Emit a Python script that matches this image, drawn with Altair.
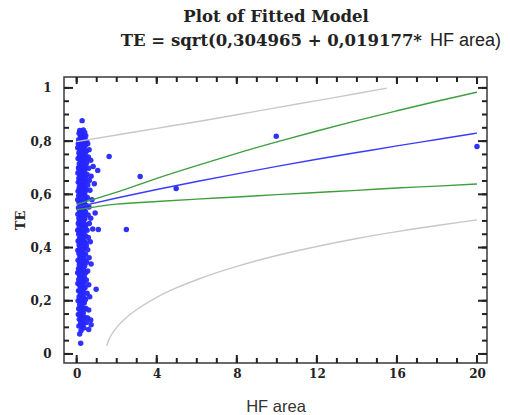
import altair as alt
import pandas as pd

SERIF = "DejaVu Serif"
SANS = "Liberation Sans Narrow, Liberation Sans, Arial, sans-serif"

X_DOMAIN = [-0.635, 20.5]
Y_DOMAIN = [-0.034, 1.041]
W, H = 423, 286

title_line1 = "Plot of Fitted Model"
title_line2a = "TE = sqrt(0,304965 + 0,019177*"
title_line2b = "HF area)"
x_title = "HF area"
y_title = "TE"

x_major = [0, 4, 8, 12, 16, 20]
x_minor = list(range(0, 21))
y_major = [0, 0.2, 0.4, 0.6, 0.8, 1.0]
y_minor = [round(i * 0.05, 2) for i in range(21)]

# fitted model and limits
fit_x = [0, 2, 4, 6, 8, 10, 12, 14, 16, 18, 20]
fit_y = [0.552, 0.586, 0.618, 0.648, 0.677, 0.705, 0.732, 0.757, 0.782, 0.806, 0.830]
cl_upper = [0.562, 0.608, 0.660, 0.708, 0.754, 0.797, 0.838, 0.877, 0.914, 0.950, 0.984]
cl_lower = [0.542, 0.563, 0.573, 0.582, 0.590, 0.599, 0.607, 0.615, 0.624, 0.631, 0.639]
pl_upper_x = [0, 2, 4, 6, 8, 10, 12, 14, 15.5]
pl_upper_y = [0.798, 0.823, 0.848, 0.873, 0.899, 0.926, 0.952, 0.979, 0.999]
pl_lower_x = [1.5, 1.6, 1.75, 2, 2.5, 3, 4, 5, 6, 8, 10, 12, 14, 16, 18, 20]
pl_lower_y = [0.030, 0.052, 0.074, 0.100, 0.138, 0.167, 0.213, 0.249, 0.279, 0.329,
              0.370, 0.404, 0.434, 0.460, 0.483, 0.504]

# observations (HF area, TE)
cluster = [
    (0.12, 0.830), (0.22, 0.835), (0.31, 0.828), (0.40, 0.832), (0.18, 0.820), (0.27, 0.815),
    (0.36, 0.810), (0.45, 0.820), (0.10, 0.805), (0.50, 0.800), (0.15, 0.840), (0.33, 0.842),
    (0.24, 0.800), (0.42, 0.805), (0.08, 0.790), (0.29, 0.795), (0.55, 0.790), (0.20, 0.785),
    (0.38, 0.780), (0.27, 0.877),
    (0.05, 0.775), (0.14, 0.770), (0.25, 0.765), (0.35, 0.770), (0.48, 0.762), (0.62, 0.768),
    (0.11, 0.755), (0.20, 0.750), (0.31, 0.745), (0.42, 0.752), (0.58, 0.740), (0.07, 0.735),
    (0.17, 0.730), (0.28, 0.725), (0.39, 0.732), (0.70, 0.728), (0.50, 0.720), (0.13, 0.715),
    (0.23, 0.710), (0.34, 0.705), (0.45, 0.712), (0.82, 0.705), (0.09, 0.700), (0.60, 0.698),
    (1.05, 0.690),
    (0.19, 0.695), (0.29, 0.690), (0.40, 0.688), (0.06, 0.680), (0.15, 0.675), (0.26, 0.672),
    (0.37, 0.670), (0.52, 0.675), (0.72, 0.668), (0.11, 0.660), (0.21, 0.655), (0.32, 0.658),
    (0.44, 0.650), (0.63, 0.652), (0.08, 0.645), (0.18, 0.640), (0.28, 0.638), (0.39, 0.642),
    (0.55, 0.635), (0.88, 0.640), (0.13, 0.628), (0.24, 0.622), (0.35, 0.625), (0.47, 0.618),
    (0.07, 0.612), (0.17, 0.608), (0.30, 0.605), (0.42, 0.610), (0.66, 0.615), (0.22, 0.600),
    (0.10, 0.595), (0.37, 0.590), (0.53, 0.588), (0.05, 0.580), (0.15, 0.575), (0.27, 0.572),
    (0.41, 0.578), (0.76, 0.580), (0.20, 0.565), (0.32, 0.560), (0.48, 0.558), (0.09, 0.550),
    (0.25, 0.545), (0.38, 0.548), (0.61, 0.552), (0.14, 0.538), (0.30, 0.532), (0.44, 0.535),
    (0.06, 0.525), (0.19, 0.520), (0.35, 0.518), (0.57, 0.522), (0.92, 0.530), (0.11, 0.510),
    (0.26, 0.505), (0.41, 0.508), (0.70, 0.510), (0.16, 0.500), (0.33, 0.497), (0.08, 0.490),
    (0.22, 0.488), (0.46, 0.485), (0.63, 0.490), (0.13, 0.478), (0.29, 0.475), (0.39, 0.480),
    (1.08, 0.468), (0.05, 0.465), (0.18, 0.462), (0.34, 0.460), (0.52, 0.465), (0.80, 0.470),
    (0.10, 0.450), (0.24, 0.448), (0.43, 0.445), (0.15, 0.435), (0.31, 0.432), (0.58, 0.438),
    (0.07, 0.425), (0.21, 0.420), (0.37, 0.418), (0.68, 0.422), (0.12, 0.410), (0.27, 0.405),
    (0.48, 0.408), (0.17, 0.398), (0.34, 0.395), (0.06, 0.390), (0.40, 0.402), (0.55, 0.392),
    (0.23, 0.385), (0.11, 0.378), (0.29, 0.372), (0.44, 0.375), (0.16, 0.365), (0.36, 0.360),
    (0.62, 0.362), (0.07, 0.352), (0.21, 0.348), (0.30, 0.342), (0.50, 0.345), (0.13, 0.335),
    (0.26, 0.330), (0.40, 0.332), (0.72, 0.338), (0.09, 0.320), (0.19, 0.315), (0.33, 0.318),
    (0.55, 0.312), (0.05, 0.305), (0.24, 0.300), (0.45, 0.305), (0.14, 0.295), (0.38, 0.290),
    (0.28, 0.285),
    (0.10, 0.280), (0.20, 0.275), (0.48, 0.278), (0.97, 0.243), (0.06, 0.265), (0.31, 0.262),
    (0.16, 0.255), (0.42, 0.250), (0.25, 0.245), (0.60, 0.260), (0.09, 0.238), (0.35, 0.232),
    (0.19, 0.225), (0.52, 0.228), (0.12, 0.215), (0.29, 0.210), (0.44, 0.205), (0.07, 0.200),
    (0.22, 0.198), (0.65, 0.215), (0.38, 0.192), (0.15, 0.185),
    (0.27, 0.178), (0.10, 0.170), (0.45, 0.172), (0.18, 0.160), (0.33, 0.155), (0.60, 0.165),
    (0.08, 0.148), (0.24, 0.142), (0.40, 0.138), (0.13, 0.130), (0.55, 0.135), (0.30, 0.125),
    (0.70, 0.128), (0.20, 0.115), (0.48, 0.118), (0.72, 0.110), (0.11, 0.105), (0.36, 0.098),
    (0.22, 0.088), (0.60, 0.092), (0.15, 0.075), (0.20, 0.040),
]
cluster_core = [
    (0.20, 0.812), (0.30, 0.805), (0.14, 0.795), (0.34, 0.792), (0.25, 0.778), (0.44, 0.785),
    (0.18, 0.760), (0.38, 0.758), (0.27, 0.740), (0.14, 0.742), (0.46, 0.735), (0.22, 0.722),
    (0.32, 0.715), (0.16, 0.700), (0.40, 0.700), (0.26, 0.685), (0.34, 0.680), (0.12, 0.690),
    (0.22, 0.665), (0.46, 0.662), (0.14, 0.650), (0.34, 0.645), (0.24, 0.632), (0.40, 0.628),
    (0.12, 0.618), (0.28, 0.615), (0.36, 0.600), (0.18, 0.592), (0.28, 0.585), (0.44, 0.592),
    (0.12, 0.568), (0.38, 0.568), (0.22, 0.552), (0.32, 0.545), (0.18, 0.530), (0.40, 0.522),
    (0.26, 0.518), (0.12, 0.497), (0.36, 0.492), (0.24, 0.470), (0.44, 0.470), (0.12, 0.462),
    (0.30, 0.452), (0.20, 0.440), (0.36, 0.438), (0.26, 0.422), (0.14, 0.420), (0.44, 0.420),
    (0.22, 0.402), (0.30, 0.390), (0.14, 0.388), (0.36, 0.375), (0.20, 0.362), (0.28, 0.355),
    (0.40, 0.350), (0.16, 0.345), (0.22, 0.330), (0.34, 0.328), (0.12, 0.308), (0.30, 0.302),
    (0.20, 0.290), (0.26, 0.268), (0.38, 0.270), (0.14, 0.268), (0.22, 0.255), (0.32, 0.245),
    (0.16, 0.235), (0.26, 0.225), (0.36, 0.212), (0.18, 0.205), (0.30, 0.192), (0.22, 0.172),
    (0.36, 0.168), (0.16, 0.145), (0.28, 0.140), (0.20, 0.128), (0.26, 0.105), (0.32, 0.112),
]
outliers = [(1.62, 0.742), (3.17, 0.667), (4.97, 0.622), (9.97, 0.818), (2.48, 0.468), (20.0, 0.780)]

pts_df = pd.DataFrame(cluster + cluster_core + outliers, columns=["x", "y"])

rows = []
for name, xs, ys in [
    ("pl_upper", pl_upper_x, pl_upper_y),
    ("pl_lower", pl_lower_x, pl_lower_y),
    ("cl_upper", fit_x, cl_upper),
    ("cl_lower", fit_x, cl_lower),
    ("fit", fit_x, fit_y),
]:
    for xv, yv in zip(xs, ys):
        rows.append({"curve": name, "x": xv, "y": yv})
lines_df = pd.DataFrame(rows)


def xenc(axis=None):
    return alt.X("x:Q", scale=alt.Scale(domain=X_DOMAIN, nice=False, zero=False), axis=axis)


def yenc(axis=None):
    return alt.Y("y:Q", scale=alt.Scale(domain=Y_DOMAIN, nice=False, zero=False), axis=axis)


TICK_COLOR = "#222222"
label_expr = "replace(format(datum.value, '.1~f'), '.', ',')"

x_major_axis = alt.Axis(
    orient="bottom", values=x_major, title=x_title, labelFont=SERIF, labelFontWeight="bold",
    labelFontSize=12, labelColor="#222222", ticks=False, domain=False, grid=False,
    labelPadding=5, labelOverlap=False,
    titleFont=SANS, titleFontSize=16.5, titleFontWeight="normal", titlePadding=19,
    titleColor="#333333",
)
y_major_axis = alt.Axis(
    orient="left", values=y_major, title=y_title, labelExpr=label_expr, labelFont=SERIF,
    labelFontWeight="bold", labelFontSize=12, labelColor="#222222", ticks=False,
    domain=False, grid=False, labelPadding=13, labelOverlap=False,
    titleFont=SERIF, titleFontSize=13, titleFontWeight="bold",
    titlePadding=3, titleColor="#222222",
)


def xticks(values, y0, y1):
    return alt.Chart(pd.DataFrame({"x": values})).mark_rule(
        color=TICK_COLOR, strokeWidth=2
    ).encode(x=xenc(), y=alt.value(y0), y2=alt.value(y1))


def yticks(values, x0, x1):
    return alt.Chart(pd.DataFrame({"y": values})).mark_rule(
        color=TICK_COLOR, strokeWidth=2
    ).encode(y=yenc(), x=alt.value(x0), x2=alt.value(x1))


tick_layers = [
    xticks(x_minor, H, H - 5), xticks(x_major, H, H - 8),
    xticks(x_minor, 0, 5), xticks(x_major, 0, 7),
    yticks(y_minor, 0, 5), yticks(y_major, 0, 9),
    yticks(y_minor, W, W - 5), yticks(y_major, W, W - 9),
]

points = alt.Chart(pts_df).mark_circle(size=30, color="#2626ff", opacity=0.95).encode(
    x=xenc(x_major_axis), y=yenc(y_major_axis)
)

lines = alt.Chart(lines_df).mark_line(strokeWidth=1.4, interpolate="monotone").encode(
    x=xenc(), y=yenc(),
    color=alt.Color("curve:N", legend=None, scale=alt.Scale(
        domain=["fit", "cl_upper", "cl_lower", "pl_upper", "pl_lower"],
        range=["#3b3bff", "#3f9f3f", "#3f9f3f", "#c8c8c8", "#c8c8c8"])),
)

t1 = alt.Chart(pd.DataFrame({"t": [title_line1]})).mark_text(
    font=SERIF, fontWeight="bold", fontSize=16.5, align="center", baseline="middle", color="#222222"
).encode(text="t:N", x=alt.value(212), y=alt.value(-60))
t2a = alt.Chart(pd.DataFrame({"t": [title_line2a]})).mark_text(
    font=SERIF, fontWeight="bold", fontSize=16.5, align="right", baseline="middle", color="#222222"
).encode(text="t:N", x=alt.value(358), y=alt.value(-36))
t2b = alt.Chart(pd.DataFrame({"t": [title_line2b]})).mark_text(
    font=SANS, fontSize=18, align="left", baseline="middle", color="#222222"
).encode(text="t:N", x=alt.value(366), y=alt.value(-36))

chart = alt.layer(points, lines, *tick_layers, t1, t2a, t2b).resolve_scale(
    x="independent", y="independent"
).properties(
    width=W, height=H,
    background="white",
    autosize=alt.AutoSizeParams(type="none"),
    padding={"left": 56, "top": 69, "right": 15, "bottom": 50},
).configure_view(stroke="#3a3a3a", strokeWidth=1.5)

chart.save("out.html", embed_options={"renderer": "svg", "actions": False})
